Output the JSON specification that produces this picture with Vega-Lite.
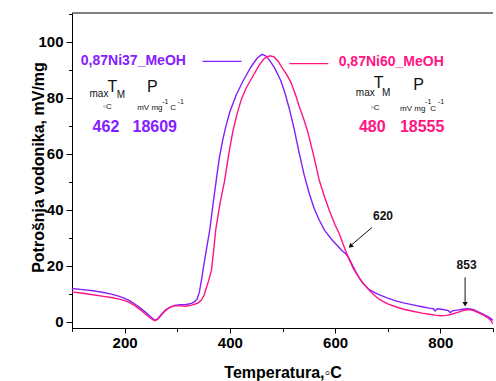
{
  "$schema": "https://vega.github.io/schema/vega-lite/v6.json",
  "autosize": {"type": "none"},
  "width": 421,
  "height": 315,
  "padding": {"left": 72, "top": 13, "right": 3, "bottom": 53},
  "background": "white",
  "config": {
    "view": {"stroke": null},
    "font": "Liberation Sans",
    "text": {"font": "Liberation Sans"}
  },
  "datasets": {
    "curves": [
      {"series":"Ni37","x":100,"y":11.8},{"series":"Ni37","x":120,"y":11.4},{"series":"Ni37","x":140,"y":11.0},{"series":"Ni37","x":160,"y":10.4},{"series":"Ni37","x":175,"y":9.8},{"series":"Ni37","x":190,"y":9.0},{"series":"Ni37","x":200,"y":8.3},{"series":"Ni37","x":210,"y":7.4},{"series":"Ni37","x":220,"y":6.2},{"series":"Ni37","x":230,"y":4.8},{"series":"Ni37","x":240,"y":3.3},{"series":"Ni37","x":250,"y":1.6},{"series":"Ni37","x":257,"y":0.5},{"series":"Ni37","x":263,"y":1.0},{"series":"Ni37","x":270,"y":2.6},{"series":"Ni37","x":278,"y":4.2},{"series":"Ni37","x":286,"y":5.1},{"series":"Ni37","x":295,"y":5.8},{"series":"Ni37","x":305,"y":6.0},{"series":"Ni37","x":317,"y":6.1},{"series":"Ni37","x":327,"y":6.5},{"series":"Ni37","x":333,"y":7.1},{"series":"Ni37","x":338,"y":8.2},{"series":"Ni37","x":342,"y":10.5},{"series":"Ni37","x":346,"y":14.8},{"series":"Ni37","x":352,"y":22.0},{"series":"Ni37","x":357,"y":27.5},{"series":"Ni37","x":362,"y":33.0},{"series":"Ni37","x":368,"y":42.0},{"series":"Ni37","x":374,"y":50.4},{"series":"Ni37","x":380,"y":58.5},{"series":"Ni37","x":386,"y":64.5},{"series":"Ni37","x":392,"y":69.5},{"series":"Ni37","x":400,"y":75.0},{"series":"Ni37","x":412,"y":81.0},{"series":"Ni37","x":425,"y":86.0},{"series":"Ni37","x":440,"y":91.0},{"series":"Ni37","x":452,"y":94.2},{"series":"Ni37","x":461,"y":95.5},{"series":"Ni37","x":468,"y":95.0},{"series":"Ni37","x":476,"y":93.3},{"series":"Ni37","x":486,"y":90.3},{"series":"Ni37","x":497,"y":86.0},{"series":"Ni37","x":505,"y":81.5},{"series":"Ni37","x":513,"y":76.0},{"series":"Ni37","x":522,"y":69.0},{"series":"Ni37","x":532,"y":60.0},{"series":"Ni37","x":541,"y":52.5},{"series":"Ni37","x":551,"y":45.7},{"series":"Ni37","x":560,"y":40.5},{"series":"Ni37","x":570,"y":36.2},{"series":"Ni37","x":580,"y":32.6},{"series":"Ni37","x":595,"y":29.0},{"series":"Ni37","x":605,"y":27.0},{"series":"Ni37","x":613,"y":25.3},{"series":"Ni37","x":620,"y":24.3},{"series":"Ni37","x":626,"y":22.8},{"series":"Ni37","x":632,"y":20.5},{"series":"Ni37","x":640,"y":17.5},{"series":"Ni37","x":652,"y":13.8},{"series":"Ni37","x":665,"y":11.4},{"series":"Ni37","x":680,"y":9.9},{"series":"Ni37","x":700,"y":8.4},{"series":"Ni37","x":715,"y":7.4},{"series":"Ni37","x":730,"y":6.7},{"series":"Ni37","x":750,"y":5.9},{"series":"Ni37","x":765,"y":5.3},{"series":"Ni37","x":779,"y":4.8},{"series":"Ni37","x":787,"y":4.6},{"series":"Ni37","x":790,"y":3.8},{"series":"Ni37","x":794,"y":4.6},{"series":"Ni37","x":805,"y":4.3},{"series":"Ni37","x":815,"y":3.9},{"series":"Ni37","x":819,"y":3.2},{"series":"Ni37","x":823,"y":3.8},{"series":"Ni37","x":835,"y":4.2},{"series":"Ni37","x":845,"y":4.5},{"series":"Ni37","x":853,"y":4.6},{"series":"Ni37","x":862,"y":4.3},{"series":"Ni37","x":872,"y":3.5},{"series":"Ni37","x":882,"y":2.6},{"series":"Ni37","x":892,"y":1.6},{"series":"Ni37","x":898,"y":0.8},{"series":"Ni37","x":900,"y":0.5},
      {"series":"Ni60","x":100,"y":10.6},{"series":"Ni60","x":120,"y":10.1},{"series":"Ni60","x":140,"y":9.6},{"series":"Ni60","x":160,"y":9.0},{"series":"Ni60","x":175,"y":8.6},{"series":"Ni60","x":190,"y":8.0},{"series":"Ni60","x":200,"y":7.5},{"series":"Ni60","x":210,"y":6.8},{"series":"Ni60","x":220,"y":5.6},{"series":"Ni60","x":230,"y":4.2},{"series":"Ni60","x":240,"y":2.6},{"series":"Ni60","x":250,"y":1.1},{"series":"Ni60","x":257,"y":0.3},{"series":"Ni60","x":263,"y":0.8},{"series":"Ni60","x":270,"y":2.4},{"series":"Ni60","x":278,"y":4.0},{"series":"Ni60","x":286,"y":5.1},{"series":"Ni60","x":295,"y":5.7},{"series":"Ni60","x":305,"y":5.6},{"series":"Ni60","x":317,"y":5.5},{"series":"Ni60","x":327,"y":5.9},{"series":"Ni60","x":333,"y":6.2},{"series":"Ni60","x":340,"y":6.7},{"series":"Ni60","x":346,"y":7.7},{"series":"Ni60","x":351,"y":9.5},{"series":"Ni60","x":355,"y":11.9},{"series":"Ni60","x":360,"y":14.8},{"series":"Ni60","x":365,"y":18.4},{"series":"Ni60","x":369,"y":25.0},{"series":"Ni60","x":373,"y":32.6},{"series":"Ni60","x":381,"y":42.0},{"series":"Ni60","x":390,"y":50.4},{"series":"Ni60","x":398,"y":60.0},{"series":"Ni60","x":406,"y":68.3},{"series":"Ni60","x":414,"y":74.5},{"series":"Ni60","x":422,"y":79.5},{"series":"Ni60","x":431,"y":83.5},{"series":"Ni60","x":441,"y":86.8},{"series":"Ni60","x":455,"y":91.5},{"series":"Ni60","x":466,"y":94.2},{"series":"Ni60","x":476,"y":95.0},{"series":"Ni60","x":484,"y":94.6},{"series":"Ni60","x":492,"y":93.0},{"series":"Ni60","x":500,"y":90.5},{"series":"Ni60","x":508,"y":88.3},{"series":"Ni60","x":516,"y":85.5},{"series":"Ni60","x":524,"y":81.5},{"series":"Ni60","x":532,"y":76.8},{"series":"Ni60","x":540,"y":72.6},{"series":"Ni60","x":548,"y":67.8},{"series":"Ni60","x":559,"y":59.5},{"series":"Ni60","x":570,"y":50.4},{"series":"Ni60","x":580,"y":44.5},{"series":"Ni60","x":589,"y":39.7},{"series":"Ni60","x":600,"y":34.5},{"series":"Ni60","x":608,"y":31.4},{"series":"Ni60","x":614,"y":28.3},{"series":"Ni60","x":620,"y":25.3},{"series":"Ni60","x":626,"y":22.5},{"series":"Ni60","x":635,"y":18.8},{"series":"Ni60","x":645,"y":15.8},{"series":"Ni60","x":655,"y":13.3},{"series":"Ni60","x":665,"y":11.2},{"series":"Ni60","x":675,"y":9.3},{"series":"Ni60","x":684,"y":7.9},{"series":"Ni60","x":700,"y":6.3},{"series":"Ni60","x":715,"y":5.3},{"series":"Ni60","x":730,"y":4.4},{"series":"Ni60","x":750,"y":3.6},{"series":"Ni60","x":765,"y":3.0},{"series":"Ni60","x":779,"y":2.6},{"series":"Ni60","x":790,"y":2.3},{"series":"Ni60","x":800,"y":2.1},{"series":"Ni60","x":812,"y":2.2},{"series":"Ni60","x":823,"y":2.7},{"series":"Ni60","x":833,"y":3.3},{"series":"Ni60","x":843,"y":3.9},{"series":"Ni60","x":853,"y":4.3},{"series":"Ni60","x":862,"y":4.0},{"series":"Ni60","x":872,"y":3.2},{"series":"Ni60","x":882,"y":2.3},{"series":"Ni60","x":890,"y":1.4},{"series":"Ni60","x":896,"y":0.4},{"series":"Ni60","x":898,"y":-0.3},{"series":"Ni60","x":900,"y":-0.8}
    ],
    "legendLines": [
      {"series":"Ni37","x":348,"x2":422,"y":93.0},
      {"series":"Ni60","x":513,"x2":587,"y":92.2}
    ],
    "names": [
      {"series":"Ni37","x":216.6,"y":93.1,"label":"0,87Ni37_MeOH"},
      {"series":"Ni60","x":706.6,"y":92.8,"label":"0,87Ni60_MeOH"}
    ],
    "values": [
      {"series":"Ni37","x":164.5,"y":69.5,"label":"462"},
      {"series":"Ni37","x":257.3,"y":69.5,"label":"18609"},
      {"series":"Ni60","x":670.6,"y":69.5,"label":"480"},
      {"series":"Ni60","x":765.4,"y":69.5,"label":"18555"}
    ],
    "bigSym": [
      {"x":176.8,"y":83.9,"label":"T"},
      {"x":252.6,"y":83.8,"label":"P"},
      {"x":682.9,"y":85.2,"label":"T"},
      {"x":758.8,"y":84.5,"label":"P"}
    ],
    "subs": [
      {"x":151.2,"y":81.3,"label":"max"},
      {"x":192.9,"y":80.9,"label":"M"},
      {"x":657.3,"y":81.6,"label":"max"},
      {"x":697.2,"y":81.6,"label":"M"}
    ],
    "units": [
      {"x":167.3,"y":76.7,"label":"◦C"},
      {"x":247.9,"y":76.2,"label":"mV mg"},
      {"x":292.4,"y":76.2,"label":"C"},
      {"x":676.3,"y":76.2,"label":"◦C"},
      {"x":747.4,"y":75.9,"label":"mV mg"},
      {"x":786.3,"y":75.9,"label":"C"}
    ],
    "sups": [
      {"x":277.3,"y":78.6,"label":"-1"},
      {"x":306.6,"y":78.6,"label":"-1"},
      {"x":776.8,"y":78.4,"label":"-1"},
      {"x":801.4,"y":78.4,"label":"-1"}
    ],
    "notes": [
      {"x":691,"y":37.6,"label":"620"},
      {"x":849.8,"y":20.1,"label":"853"}
    ],
    "arrows": [
      {"x":670,"y":33.6,"x2":631,"y2":27.4},
      {"x":847,"y":15.8,"x2":847,"y2":7.0}
    ],
    "frame": [
      {"x":100,"x2":900,"y":110.3}
    ]
  },
  "encoding": {
    "x": {
      "field": "x", "type": "quantitative",
      "scale": {"domain": [100, 900], "nice": false, "zero": false},
      "axis": {
        "title": "Temperatura,◦C",
        "values": [100,200,300,400,500,600,700,800,900],
        "labelExpr": "(datum.value % 200 === 0) ? datum.label : ''",
        "grid": false,
        "domainColor": "#000000",
        "tickColor": "#000000",
        "tickSize": {"expr": "datum.value % 200 === 0 ? 5 : 3.5"},
        "labelFont": "Liberation Sans",
        "labelFontSize": 15,
        "labelFontWeight": "bold",
        "labelColor": "#000000",
        "labelPadding": 2,
        "labelFlush": false,
        "titleFont": "Liberation Sans",
        "titleFontSize": 16,
        "titleFontWeight": "bold",
        "titleColor": "#000000",
        "titleBaseline": "alphabetic",
        "titleY": 49
      }
    },
    "y": {
      "field": "y", "type": "quantitative",
      "scale": {"domain": [-2.3, 110.3], "nice": false, "zero": false},
      "axis": {
        "title": "Potrošnja vodonika, mV/mg",
        "values": [0,10,20,30,40,50,60,70,80,90,100,110],
        "labelExpr": "(datum.value % 20 === 0 && datum.value <= 100) ? datum.label : ''",
        "grid": false,
        "domainColor": "#000000",
        "tickColor": "#000000",
        "tickSize": {"expr": "datum.value % 20 === 0 && datum.value <= 100 ? 6 : 3.5"},
        "labelFont": "Liberation Sans",
        "labelFontSize": 15,
        "labelFontWeight": "bold",
        "labelColor": "#000000",
        "labelPadding": 3,
        "titleFont": "Liberation Sans",
        "titleFontSize": 16,
        "titleFontWeight": "bold",
        "titleColor": "#000000",
        "titleBaseline": "alphabetic",
        "titleAlign": "center",
        "titleX": -29,
        "titleY": 154
      }
    }
  },
  "layer": [
    {
      "data": {"name": "frame"},
      "mark": {"type": "rule", "color": "#000000", "strokeWidth": 1},
      "encoding": {"x2": {"field": "x2"}}
    },
    {
      "data": {"name": "curves"},
      "mark": {"type": "line", "strokeWidth": 1.4, "clip": true},
      "encoding": {
        "color": {"field": "series", "type": "nominal", "scale": {"domain": ["Ni37","Ni60"], "range": ["#8420FF","#FF1482"]}, "legend": null},
        "order": {"field": "x", "type": "quantitative"}
      }
    },
    {
      "data": {"name": "legendLines"},
      "mark": {"type": "rule", "strokeWidth": 1.4},
      "encoding": {
        "x2": {"field": "x2"},
        "color": {"field": "series", "type": "nominal", "legend": null}
      }
    },
    {
      "data": {"name": "names"},
      "mark": {"type": "text", "fontSize": 14, "fontWeight": "bold", "align": "center", "baseline": "middle"},
      "encoding": {
        "text": {"field": "label"},
        "color": {"field": "series", "type": "nominal", "legend": null}
      }
    },
    {
      "data": {"name": "values"},
      "mark": {"type": "text", "fontSize": 16, "fontWeight": "bold", "align": "center", "baseline": "middle"},
      "encoding": {
        "text": {"field": "label"},
        "color": {"field": "series", "type": "nominal", "legend": null}
      }
    },
    {
      "data": {"name": "bigSym"},
      "mark": {"type": "text", "fontSize": 16, "align": "center", "baseline": "middle", "color": "#111111"},
      "encoding": {"text": {"field": "label"}}
    },
    {
      "data": {"name": "subs"},
      "mark": {"type": "text", "fontSize": 10, "align": "center", "baseline": "middle", "color": "#111111"},
      "encoding": {"text": {"field": "label"}}
    },
    {
      "data": {"name": "units"},
      "mark": {"type": "text", "fontSize": 8, "align": "center", "baseline": "middle", "color": "#111111"},
      "encoding": {"text": {"field": "label"}}
    },
    {
      "data": {"name": "sups"},
      "mark": {"type": "text", "fontSize": 7, "align": "center", "baseline": "middle", "color": "#111111"},
      "encoding": {"text": {"field": "label"}}
    },
    {
      "data": {"name": "notes"},
      "mark": {"type": "text", "fontSize": 12, "fontWeight": "bold", "align": "center", "baseline": "middle", "color": "#111111"},
      "encoding": {"text": {"field": "label"}}
    },
    {
      "data": {"name": "arrows"},
      "mark": {"type": "rule", "color": "#111111", "strokeWidth": 1},
      "encoding": {"x2": {"field": "x2"}, "y2": {"field": "y2"}}
    },
    {
      "data": {"values": [{"x":629,"y":26.9}]},
      "mark": {"type": "point", "shape": "triangle-up", "filled": true, "size": 28, "angle": 228, "color": "#111111", "opacity": 1}
    },
    {
      "data": {"values": [{"x":847,"y":6.2}]},
      "mark": {"type": "point", "shape": "triangle-up", "filled": true, "size": 28, "angle": 180, "color": "#111111", "opacity": 1}
    }
  ]
}
